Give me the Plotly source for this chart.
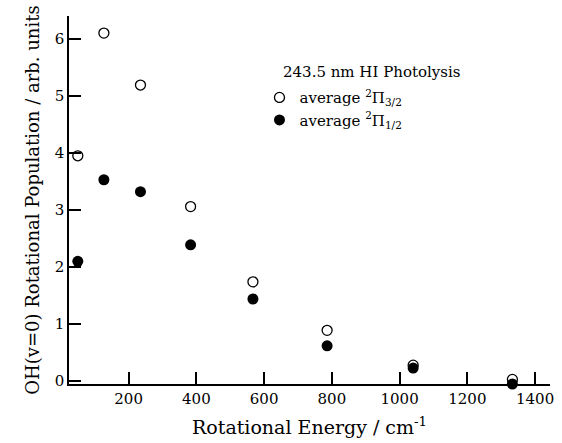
import plotly.graph_objects as go

energy = [50, 127, 235, 383, 567, 786, 1040, 1333]
pop_32 = [3.95, 6.1, 5.19, 3.06, 1.74, 0.89, 0.28, 0.03]
pop_12 = [2.1, 3.53, 3.32, 2.39, 1.44, 0.62, 0.23, -0.05]

x_ticks = [200, 400, 600, 800, 1000, 1200, 1400]
y_ticks = [0, 1, 2, 3, 4, 5, 6]

font_family = "DejaVu Serif, Liberation Serif, serif"

fig = go.Figure()
fig.add_trace(go.Scatter(
    x=energy, y=pop_32, mode="markers", cliponaxis=False,
    name="average <sup>2</sup>Π<sub>3/2</sub>",
    marker=dict(symbol="circle-open", size=10, color="black", line=dict(width=1.3, color="black")),
))
fig.add_trace(go.Scatter(
    x=energy, y=pop_12, mode="markers", cliponaxis=False,
    name="average <sup>2</sup>Π<sub>1/2</sub>",
    marker=dict(symbol="circle", size=11, color="black"),
))

fig.add_annotation(
    text="243.5 nm HI Photolysis", xref="paper", yref="paper",
    x=0.441, y=0.847, xanchor="left", yanchor="middle", showarrow=False,
    font=dict(size=15),
)

fig.update_layout(
    width=562, height=443,
    margin=dict(l=69, r=8, t=16, b=52),
    paper_bgcolor="white", plot_bgcolor="white",
    font=dict(family=font_family, size=15, color="black"),
    showlegend=True,
    legend=dict(
        x=0.396, y=0.823, xanchor="left", yanchor="top",
        font=dict(size=15), bgcolor="rgba(0,0,0,0)",
        itemwidth=30, tracegroupgap=0,
    ),
    xaxis=dict(
        range=[24, 1444], tickvals=x_ticks, ticks="inside", ticklen=12, tickwidth=1.5,
        tickcolor="black", showline=True, linecolor="black", linewidth=1.5,
        showgrid=False, zeroline=False,
        tickfont=dict(size=15),
        title=dict(text="Rotational Energy / cm<sup>-1</sup>", font=dict(size=19), standoff=14),
    ),
    yaxis=dict(
        range=[-0.05, 6.4], tickvals=y_ticks, ticks="inside", ticklen=12, tickwidth=1.5,
        tickcolor="black", showline=True, linecolor="black", linewidth=1.5,
        showgrid=False, zeroline=False,
        tickfont=dict(size=15),
        title=dict(text="OH(v=0) Rotational Population / arb. units", font=dict(size=18), standoff=10),
    ),
)

fig.write_html("out.html", config={"displayModeBar": False},
               post_script="document.body.style.margin='0';")
